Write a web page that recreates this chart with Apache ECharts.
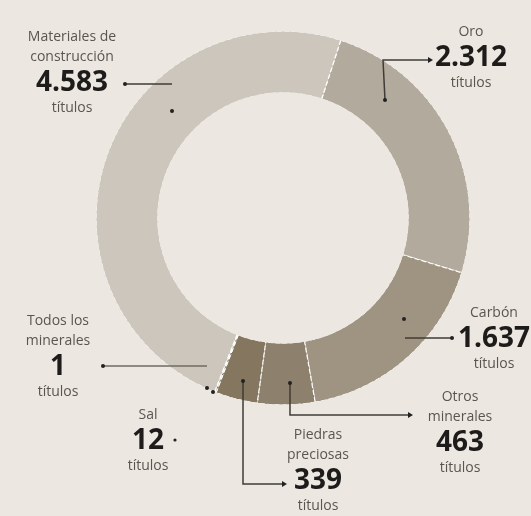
<!DOCTYPE html>
<html>
<head>
<meta charset="utf-8">
<script src="https://cdn.jsdelivr.net/npm/echarts@6/dist/echarts.min.js"></script>
<style>
  html, body { margin: 0; background: #ece8e1; }
  #main { width: 531px; height: 516px; }
</style>
</head>
<body>
<div id="main"></div>
<script>
// datos: títulos mineros por tipo de mineral
const names = ['Oro', 'Carbón', 'Otros minerales', 'Piedras preciosas', 'Sal', 'Todos los minerales', 'Materiales de construcción'];
const nameLines = [['Oro'], ['Carbón'], ['Otros', 'minerales'], ['Piedras', 'preciosas'], ['Sal'], ['Todos los', 'minerales'], ['Materiales de', 'construcción']];
const values = [2312, 1637, 463, 339, 12, 1, 4583];
const unit = 'títulos';

// where each label block sits (number line centre)
const labelPos = [[471, 58], [494, 339], [460, 443], [318, 481], [148, 441], [58, 367], [72, 83]];

function fmt(v) {
  return String(v).replace(/\B(?=(\d{3})+(?!\d))/g, '.');
}

let chartDom = document.getElementById('main');
let myChart = echarts.init(chartDom);

const bg = '#ece8e1';
const lineColor = '#3f3b36';
function dot(x, y, r) {
  return { type: 'circle', shape: { cx: x, cy: y, r: r || 2 }, style: { fill: '#222' }, silent: true, z: 10 };
}
function line(points, color) {
  return { type: 'polyline', shape: { points: points }, style: { stroke: color || lineColor, lineWidth: 1.5, fill: null }, silent: true, z: 10 };
}
function arrow(x, y) {
  return { type: 'polygon', shape: { points: [[x, y - 3], [x + 5, y], [x, y + 3]] }, style: { fill: '#222' }, silent: true, z: 10 };
}

let option = {
  backgroundColor: bg,
  animation: false,
  color: ['#b3aa9e', '#9f9482', '#8d816d', '#85775f', '#6e624f', '#5e5341', '#cdc6bc'],
  series: [
    {
      type: 'pie',
      center: [283, 218],
      radius: [125, 187],
      startAngle: 72,
      clockwise: true,
      avoidLabelOverlap: false,
      silent: true,
      itemStyle: {
        borderColor: '#ffffff',
        borderWidth: 1.2,
        borderType: 'dashed'
      },
      labelLine: { show: false },
      label: {
        show: true,
        position: 'outside',
        align: 'center',
        formatter: function (p) {
          let s = nameLines[p.dataIndex].map(t => '{t|' + t + '}').join('\n');
          return s + '\n{v|' + fmt(p.value) + '}\n{u|' + unit + '}';
        },
        rich: {
          t: { fontFamily: 'Open Sans', fontSize: 14, color: '#5a5550', lineHeight: 20, align: 'center' },
          v: { fontFamily: 'Open Sans', fontSize: 28, fontWeight: 'bold', color: '#1e1c1a', lineHeight: 32, align: 'center' },
          u: { fontFamily: 'Open Sans', fontSize: 14, color: '#5a5550', lineHeight: 18, align: 'center' }
        }
      },
      labelLayout: function (params) {
        let i = params.dataIndex;
        let n = nameLines[i].length;
        return {
          x: labelPos[i][0],
          y: labelPos[i][1] - n * 20 - 16,
          align: 'center',
          verticalAlign: 'top'
        };
      },
      data: names.map((n, i) => ({ name: n, value: values[i] }))
    },
    // hide the dashed stroke along the inner and outer rim
    {
      type: 'pie',
      z: 3,
      silent: true,
      center: [283, 218],
      radius: [0, 125.7],
      label: { show: false },
      itemStyle: { color: bg },
      data: [1]
    },
    {
      type: 'pie',
      z: 3,
      silent: true,
      center: [283, 218],
      radius: [186.6, 192],
      label: { show: false },
      itemStyle: { color: bg },
      data: [1]
    }
  ],
  graphic: [
    // Materiales de construcción
    line([[125, 84], [172, 84]]), dot(125, 84), dot(172, 111),
    // Oro
    line([[385, 100], [383, 60], [428, 60]]), dot(385, 100), arrow(428, 60),
    // Carbón
    line([[405, 338], [452, 338]]), dot(404, 319), dot(452, 338),
    // Otros minerales
    line([[290, 383], [290, 415], [408, 415]]), dot(290, 383), arrow(408, 415),
    // Piedras preciosas
    line([[243, 381], [243, 484], [282, 484]]), dot(243, 381), arrow(282, 484),
    // Sal
    dot(175, 440, 1.6), dot(213, 392),
    // Todos los minerales
    line([[103, 366], [207, 366]], '#6f6a63'), dot(103, 366), dot(207, 388)
  ]
};

option && myChart.setOption(option);
</script>
</body>
</html>
